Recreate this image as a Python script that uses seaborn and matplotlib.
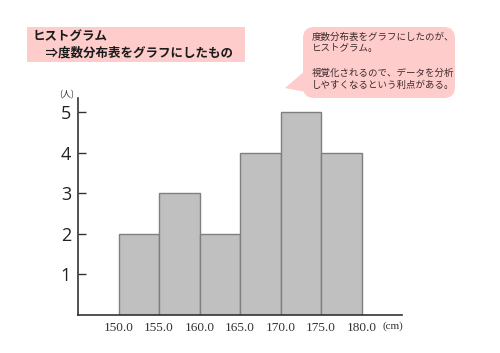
import numpy as np
import pandas as pd
import matplotlib
matplotlib.use("Agg")
import matplotlib.pyplot as plt
import seaborn as sns
from matplotlib.patches import FancyBboxPatch, Polygon, Rectangle

# ====================== DATA ======================
bin_edges = [150.0, 155.0, 160.0, 165.0, 170.0, 175.0, 180.0]
counts = [2, 3, 2, 4, 5, 4]
y_ticks = [1, 2, 3, 4, 5]
x_tick_labels = ["150.0", "155.0", "160.0", "165.0", "170.0", "175.0", "180.0"]

title_lines = "ヒストグラム\n　⇒度数分布表をグラフにしたもの"
bubble_text = ("度数分布表をグラフにしたのが、\nヒストグラム。\n\n"
               "視覚化されるので、データを分析\nしやすくなるという利点がある。")

sns.set_style("white")
plt.rcParams["font.family"] = ["Noto Sans CJK JP", "DejaVu Sans"]

CJK = ["Noto Sans CJK JP", "DejaVu Sans"]

fig = plt.figure(figsize=(5.0, 3.53), dpi=100)

# ====================== HISTOGRAM ======================
ax = fig.add_axes([78 / 500, 1 - 315 / 353, 324 / 500, 217 / 353])
centers = [(a + b) / 2 for a, b in zip(bin_edges[:-1], bin_edges[1:])]
df = pd.DataFrame({"height": centers, "count": counts})
sns.histplot(data=df, x="height", weights="count", bins=bin_edges,
             color="#c0c0c0", edgecolor="#7f7f7f", linewidth=1.0,
             alpha=1.0, ax=ax)

ax.set_xlim(145.0, 185.0)
ax.set_ylim(0, 5.35)
ax.set_xlabel("")
ax.set_ylabel("")
ax.set_xticks(bin_edges)
ax.set_xticklabels(x_tick_labels, family="Liberation Serif", fontsize=9.5, color="#333333")
ax.set_yticks(y_ticks)
ax.set_yticklabels([str(v) for v in y_ticks], family="Open Sans", fontsize=13, color="#222222")
ax.tick_params(axis="x", length=0, pad=5)
ax.tick_params(axis="y", direction="in", length=6, width=1.0, color="#333333", pad=5, left=True)
for side in ["top", "right"]:
    ax.spines[side].set_visible(False)
for side in ["left", "bottom"]:
    ax.spines[side].set_color("#333333")
    ax.spines[side].set_linewidth(1.2)

# ====================== OVERLAY (pixel coordinates) ======================
ov = fig.add_axes([0, 0, 1, 1], zorder=-1)
ov.set_xlim(0, 500)
ov.set_ylim(353, 0)
ov.axis("off")

# title box
ov.add_patch(Rectangle((27, 27), 218, 35, facecolor="#ffcccc", edgecolor="none"))
ov.text(33, 44.5, title_lines, family=CJK, fontsize=9, fontweight="bold",
        color="#1a1a1a", va="center", ha="left", linespacing=1.35)

# speech bubble
ov.add_patch(FancyBboxPatch((303, 27), 152, 71, boxstyle="round,pad=0,rounding_size=11",
                            facecolor="#ffcccc", edgecolor="none"))
ov.add_patch(Polygon([(306, 70), (285, 88), (306, 92)], closed=True,
                     facecolor="#ffcccc", edgecolor="none"))
ov.text(312, 61, bubble_text, family=CJK, fontsize=6.8, color="#3b2a2a",
        va="center", ha="left", linespacing=1.4)

# axis units
ov.text(67, 95, "(人)", family=CJK, fontsize=6.5, color="#333333", ha="center", va="center")
ov.text(393, 326, "(cm)", family="Liberation Serif", fontsize=8, color="#333333",
        ha="center", va="center")

fig.savefig("out.png", dpi=100)
